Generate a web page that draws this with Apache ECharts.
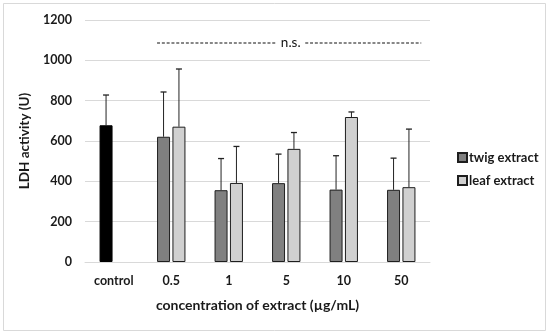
<!DOCTYPE html>
<html><head><meta charset="utf-8">
<script src="https://cdn.jsdelivr.net/npm/echarts@6/dist/echarts.min.js"></script>
<style>html,body{margin:0;padding:0;background:#fff}#c{width:550px;height:334px}</style>
</head><body><div id="c"></div>
<script>
const categories = ['control', '0.5', '1', '5', '10', '50'];
const twigMean = [678, 621, 356, 391, 359, 358];
const twigUpper = [828, 843, 513, 535, 527, 515];
const leafMean = [null, 671, 392, 561, 719, 371];
const leafUpper = [null, 957, 573, 642, 744, 659];
const yTicks = [0, 200, 400, 600, 800, 1000, 1200];
const nsLevel = 1086;

const FONT = 'Lato';
const BW = 13, GAP = 2.4;
const OFF = (BW + GAP) / 2;

function errSeries(mean, upper, off) {
  const data = [];
  mean.forEach((m, i) => { if (m != null) data.push([i, m, upper[i]]); });
  return {
    type: 'custom', silent: true, z: 1,
    data: data,
    renderItem: function (params, api) {
      const a = api.coord([api.value(0), api.value(1)]);
      const b = api.coord([api.value(0), api.value(2)]);
      const x = a[0] + off;
      return { type: 'group', children: [
        { type: 'line', shape: { x1: x, y1: a[1], x2: x, y2: b[1] }, style: { stroke: '#222', lineWidth: 1 } },
        { type: 'line', shape: { x1: x - 3, y1: b[1], x2: x + 3, y2: b[1] }, style: { stroke: '#222', lineWidth: 1.3 } }
      ]};
    }
  };
}

const chart = echarts.init(document.getElementById('c'));
chart.setOption({
  animation: false,
  backgroundColor: '#fff',
  graphic: [{ type: 'rect', shape: { x: 3.5, y: 3.5, width: 542, height: 327 }, style: { fill: 'none', stroke: '#d9d9d9', lineWidth: 1 }, silent: true }],
  grid: { left: 85, right: 120, top: 20, bottom: 72 },
  legend: {
    orient: 'vertical', left: 452, top: 146, itemGap: 10,
    itemWidth: 9, itemHeight: 9, icon: 'rect',
    textStyle: { fontFamily: FONT, fontWeight: 'bold', fontSize: 13, color: '#1a1a1a', padding: [0, 0, 0, -3] },
    data: ['twig extract', 'leaf extract']
  },
  xAxis: {
    type: 'category', data: categories,
    axisLine: { lineStyle: { color: '#d9d9d9' } },
    axisTick: { show: false },
    axisLabel: { fontFamily: FONT, fontWeight: 'bold', fontSize: 12.5, color: '#1a1a1a', margin: 12 },
    name: 'concentration of extract (µg/mL)', nameLocation: 'middle', nameGap: 36,
    nameTextStyle: { fontFamily: FONT, fontWeight: 'bold', fontSize: 14, color: '#1a1a1a' }
  },
  yAxis: {
    type: 'value', min: 0, max: 1200, interval: 200,
    axisLine: { show: false }, axisTick: { show: false },
    splitLine: { lineStyle: { color: '#d9d9d9', width: 1.2 } },
    axisLabel: { fontFamily: FONT, fontWeight: 'bold', fontSize: 12.5, color: '#1a1a1a', margin: 13,
      formatter: v => yTicks.includes(v) ? String(v) : '' },
    name: 'LDH activity (U)', nameLocation: 'middle', nameGap: 52, nameRotate: 90,
    nameTextStyle: { fontFamily: FONT, fontWeight: 'bold', fontSize: 13.5, color: '#1a1a1a' }
  },
  series: [
    {
      name: 'twig extract', type: 'bar', barWidth: BW, barGap: (GAP / BW * 100) + '%',
      itemStyle: { color: '#808080', borderColor: '#1e1e1e', borderWidth: 1 },
      data: twigMean.map((v, i) => i === 0 ? { value: v, itemStyle: { color: '#000', borderColor: '#000' } } : v)
    },
    {
      name: 'leaf extract', type: 'bar', barWidth: BW,
      itemStyle: { color: '#d0d0d0', borderColor: '#1e1e1e', borderWidth: 1 },
      data: leafMean
    },
    errSeries(twigMean, twigUpper, -OFF),
    errSeries(leafMean, leafUpper, OFF),
    {
      type: 'custom', silent: true, data: [[1, 5, nsLevel]],
      renderItem: function (params, api) {
        const p1 = api.coord([api.value(0), api.value(2)]);
        const p2 = api.coord([api.value(1), api.value(2)]);
        const x1 = p1[0] - OFF - BW / 2;
        const x2 = p2[0] + 20;
        const mid = (api.coord([3, 0])[0] + 2);
        const y = p1[1];
        const st = { stroke: '#111', lineWidth: 1.1, lineDash: [3, 1.8] };
        return { type: 'group', children: [
          { type: 'line', shape: { x1: x1, y1: y, x2: mid - 12, y2: y }, style: st },
          { type: 'line', shape: { x1: mid + 17, y1: y, x2: x2, y2: y }, style: st },
          { type: 'text', x: mid + 2.5, y: y, style: { text: 'n.s.', fontFamily: FONT, fontSize: 13.5, fill: '#111', align: 'center', verticalAlign: 'middle' } }
        ]};
      }
    }
  ]
});
</script></body></html>
